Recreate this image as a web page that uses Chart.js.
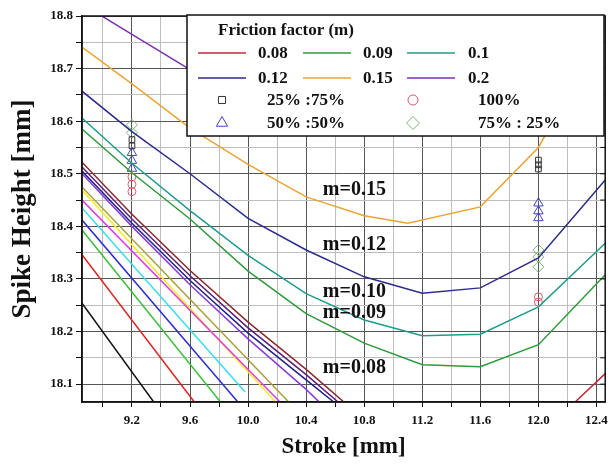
<!DOCTYPE html>
<html>
<head>
<meta charset="utf-8">
<script src="https://cdn.jsdelivr.net/npm/chart.js@4.4.1/dist/chart.umd.min.js"></script>
<style>
  html, body { margin: 0; padding: 0; background: #fff; }
  #wrap { width: 614px; height: 466px; }
</style>
</head>
<body>
<div id="wrap"><canvas id="spikeChart"></canvas></div>
<script>
// axis range and ticks
const xMin = 8.856, xMax = 12.46;
const yMin = 18.066, yMax = 18.8;
const xMajorTicks = [9.2, 9.6, 10.0, 10.4, 10.8, 11.2, 11.6, 12.0, 12.4];
const xMinorTicks = [9.0, 9.4, 9.8, 10.2, 10.6, 11.0, 11.4, 11.8, 12.2];
const yMajorTicks = [18.1, 18.2, 18.3, 18.4, 18.5, 18.6, 18.7, 18.8];
const yMinorTicks = [18.15, 18.25, 18.35, 18.45, 18.55, 18.65, 18.75];

// friction factor curves (stroke -> spike height)
const strokeNodes = [8.856, 9.2, 9.6, 10.0, 10.4, 10.8, 11.2, 11.6, 12.0, 12.46];
const m009 = [18.585, 18.502, 18.414, 18.315, 18.234, 18.178, 18.137, 18.133, 18.175, 18.308];
const m010 = [18.606, 18.52, 18.43, 18.345, 18.272, 18.222, 18.192, 18.195, 18.247, 18.368];
const m012 = [18.657, 18.58, 18.50, 18.415, 18.355, 18.304, 18.273, 18.283, 18.34, 18.488];
const m020 = [18.823, 18.765, 18.698, 18.655, 18.62, 18.60, 18.59, 18.61, 18.70, 18.85];
const m015Stroke = [8.856, 9.2, 9.6, 10.0, 10.4, 10.8, 11.1, 11.6, 12.0, 12.46];
const m015 = [18.741, 18.671, 18.587, 18.518, 18.456, 18.42, 18.406, 18.437, 18.55, 18.78];
const m008Stroke = [11.2, 11.6, 12.0, 12.46];
const m008 = [17.99, 17.985, 18.0, 18.12];

// straight lines in the lower left corner
const lowStartHeight = [18.254, 18.346, 18.393, 18.412, 18.435, 18.45, 18.469, 18.475];
const lowEndStroke = [9.35, 9.63, 9.81, 9.93, 9.98, 10.22, 10.19, 10.28];
const lowEndHeight = [18.066, 18.066, 18.066, 18.066, 18.085, 18.066, 18.066, 18.066];
const lowColors = ['#111111', '#e02424', '#3cbf3c', '#2a2ad0', '#33dcef', '#e23de0', '#f2ee22', '#a8a03a'];

// curved bundle next to them
const bundleStroke = [8.856, 9.2, 9.6, 10.0, 10.4];
const bundleViolet = [18.500, 18.400, 18.289, 18.186, 18.090];
const bundleNavy = [18.505, 18.406, 18.297, 18.197, 18.108];
const bundlePurple = [18.513, 18.414, 18.306, 18.207, 18.118];
const bundleMaroon = [18.522, 18.423, 18.316, 18.218, 18.128];
const bundleEndStroke = [10.49, 10.59, 10.62, 10.66];
const bundleColors = ['#8a3ad8', '#22228a', '#5a1f7a', '#8a2a2a'];

// experiments
const sqStroke = [9.2, 9.2, 12.0, 12.0, 12.0];
const sqHeight = [18.565, 18.553, 18.526, 18.517, 18.509];
const circStroke = [9.2, 9.2, 9.2, 12.0, 12.0];
const circHeight = [18.494, 18.48, 18.466, 18.266, 18.256];
const triStroke = [9.2, 9.2, 9.2, 12.0, 12.0, 12.0];
const triHeight = [18.54, 18.525, 18.51, 18.444, 18.429, 18.416];
const diaStroke = [9.2, 9.2, 12.0, 12.0, 12.0];
const diaHeight = [18.593, 18.578, 18.355, 18.342, 18.323];

// curve tags
const tagText = ['m=0.15', 'm=0.12', 'm=0.10', 'm=0.09', 'm=0.08'];
const tagStroke = 10.515;
const tagHeight = [18.469, 18.365, 18.275, 18.235, 18.131];

const frictionLabels = ['0.08', '0.09', '0.1', '0.12', '0.15', '0.2'];
const ratioLabels = ['25% :75%', '100%', '50% :50%', '75% : 25%'];

const serif = '"Liberation Serif", "DejaVu Serif", serif';
const pts = (xs, ys) => xs.map((x, i) => ({x: x, y: ys[i]}));
const isMajor = (v, step) => Math.abs(v / step - Math.round(v / step)) < 1e-6;

const datasets = [];
lowColors.forEach((c, i) => {
    datasets.push({
        data: [{x: xMin, y: lowStartHeight[i]}, {x: lowEndStroke[i], y: lowEndHeight[i]}],
        borderColor: c, borderWidth: 1.5, pointRadius: 0, showLine: true
    });
});
[bundleViolet, bundleNavy, bundlePurple, bundleMaroon].forEach((arr, i) => {
    datasets.push({
        data: pts(bundleStroke.concat([bundleEndStroke[i]]), arr.concat([18.066])),
        borderColor: bundleColors[i], borderWidth: 1.5, pointRadius: 0, showLine: true
    });
});

const curve = (label, xs, ys, color) => ({
    label: label, data: pts(xs, ys), borderColor: color, borderWidth: 1.5,
    pointRadius: 0, showLine: true
});
datasets.push(curve('0.08', m008Stroke, m008, '#c42a3e'));
datasets.push(curve('0.09', strokeNodes, m009, '#2f9a3c'));
datasets.push(curve('0.1', strokeNodes, m010, '#1f9c8e'));
datasets.push(curve('0.12', strokeNodes, m012, '#2b2b8c'));
datasets.push(curve('0.15', m015Stroke, m015, '#eaa434'));
datasets.push(curve('0.2', strokeNodes, m020, '#7a2fb2'));

const marks = (label, xs, ys, color, style, r) => ({
    label: label, data: pts(xs, ys), showLine: false,
    pointStyle: style, pointRadius: r, pointBorderWidth: 1,
    borderColor: color, backgroundColor: 'rgba(255,255,255,0)'
});
datasets.push(marks('25% :75%', sqStroke, sqHeight, '#333333', 'rect', 4));
datasets.push(marks('100%', circStroke, circHeight, '#e0586a', 'circle', 4));
datasets.push(marks('50% :50%', triStroke, triHeight, '#4444d4', 'triangle', 5.5));
datasets.push(marks('75% : 25%', diaStroke, diaHeight, '#79b879', 'rectRot', 5.5));

const byLabel = l => datasets.find(d => d.label === l);

const overlay = {
    id: 'overlay',
    afterDatasetsDraw(chart) {
        const ctx = chart.ctx, a = chart.chartArea;
        const xs = chart.scales.x, ys = chart.scales.y;
        ctx.save();
        // frame + inner ticks on the right
        ctx.strokeStyle = '#111';
        ctx.lineWidth = 1.5;
        ctx.strokeRect(a.left, a.top, a.right - a.left, a.bottom - a.top);
        ctx.lineWidth = 1;
        yMajorTicks.concat(yMinorTicks).forEach(v => {
            const py = ys.getPixelForValue(v);
            ctx.beginPath(); ctx.moveTo(a.right, py); ctx.lineTo(a.right - 5, py); ctx.stroke();
        });

        // curve tags
        ctx.fillStyle = '#111';
        ctx.font = 'bold 20px ' + serif;
        ctx.textBaseline = 'middle';
        ctx.textAlign = 'left';
        tagText.forEach((t, i) => {
            ctx.fillText(t, xs.getPixelForValue(tagStroke), ys.getPixelForValue(tagHeight[i]));
        });

        // legend box
        const bx = 187, by = 15, bw = 417, bh = 121;
        ctx.fillStyle = '#fff';
        ctx.fillRect(bx, by, bw, bh);
        ctx.strokeStyle = '#111';
        ctx.lineWidth = 1.5;
        ctx.strokeRect(bx, by, bw, bh);

        ctx.fillStyle = '#111';
        ctx.font = 'bold 17px ' + serif;
        ctx.fillText('Friction factor (m)', 218, 31);

        const lineX = [198, 303, 407], textX = [258, 363, 468], rowY = [53, 78];
        frictionLabels.forEach((l, i) => {
            const col = i % 3, row = Math.floor(i / 3);
            const d = byLabel(l);
            ctx.strokeStyle = d.borderColor;
            ctx.lineWidth = 1.5;
            ctx.beginPath();
            ctx.moveTo(lineX[col], rowY[row]);
            ctx.lineTo(lineX[col] + 48, rowY[row]);
            ctx.stroke();
            ctx.fillStyle = '#111';
            ctx.fillText(l, textX[col], rowY[row] + 1);
        });

        const markX = [222, 413], mTextX = [267, 478], mRowY = [100, 123];
        ratioLabels.forEach((l, i) => {
            const col = i % 2, row = Math.floor(i / 2);
            const d = byLabel(l);
            ctx.strokeStyle = d.borderColor;
            ctx.fillStyle = 'rgba(255,255,255,0)';
            ctx.lineWidth = 1;
            Chart.helpers.drawPoint(ctx, {
                pointStyle: d.pointStyle, radius: d.pointRadius + 1, rotation: 0, borderWidth: 1
            }, markX[col], mRowY[row]);
            ctx.fillStyle = '#111';
            ctx.fillText(l, mTextX[col], mRowY[row] + 1);
        });
        ctx.restore();
    }
};

new Chart(document.getElementById('spikeChart'), {
    type: 'scatter',
    data: { datasets: datasets },
    plugins: [overlay],
    options: {
        responsive: true,
        maintainAspectRatio: false,
        animation: false,
        layout: { padding: { top: 16, right: 8, left: 0, bottom: 0 } },
        elements: { line: { tension: 0 } },
        plugins: { legend: { display: false }, tooltip: { enabled: false } },
        scales: {
            x: {
                type: 'linear', min: xMin, max: xMax,
                afterBuildTicks: s => { s.ticks = xMinorTicks.concat(xMajorTicks).sort((p, q) => p - q).map(v => ({value: v})); },
                afterFit: s => { s.height = 64; },
                ticks: {
                    autoSkip: false, maxRotation: 0, padding: 6, color: '#111',
                    font: { family: serif, size: 13, weight: 'bold' },
                    callback: v => isMajor(v - 9.2, 0.4) ? v.toFixed(1) : ''
                },
                grid: {
                    color: c => isMajor(c.tick.value - 9.2, 0.4) ? '#555' : '#bdbdbd',
                    tickColor: '#111', tickLength: 5, lineWidth: 1
                },
                border: { color: '#111', width: 1.5 },
                title: {
                    display: true, text: 'Stroke [mm]', color: '#111',
                    font: { family: serif, size: 23, weight: 'bold' },
                    padding: { top: 0, bottom: 5 }
                }
            },
            y: {
                type: 'linear', min: yMin, max: yMax,
                afterBuildTicks: s => { s.ticks = yMinorTicks.concat(yMajorTicks).sort((p, q) => p - q).map(v => ({value: v})); },
                afterFit: s => { s.width = 82; },
                ticks: {
                    autoSkip: false, padding: 3, color: '#111',
                    font: { family: serif, size: 13, weight: 'bold' },
                    callback: v => isMajor(v, 0.1) ? v.toFixed(1) : ''
                },
                grid: {
                    color: c => isMajor(c.tick.value, 0.1) ? '#555' : '#bdbdbd',
                    tickColor: '#111', tickLength: 6, lineWidth: 1
                },
                border: { color: '#111', width: 1.5 },
                title: {
                    display: true, text: 'Spike Height [mm]', color: '#111',
                    font: { family: serif, size: 27, weight: 'bold' },
                    padding: { top: 7, bottom: 0 }
                }
            }
        }
    }
});
</script>
</body>
</html>
